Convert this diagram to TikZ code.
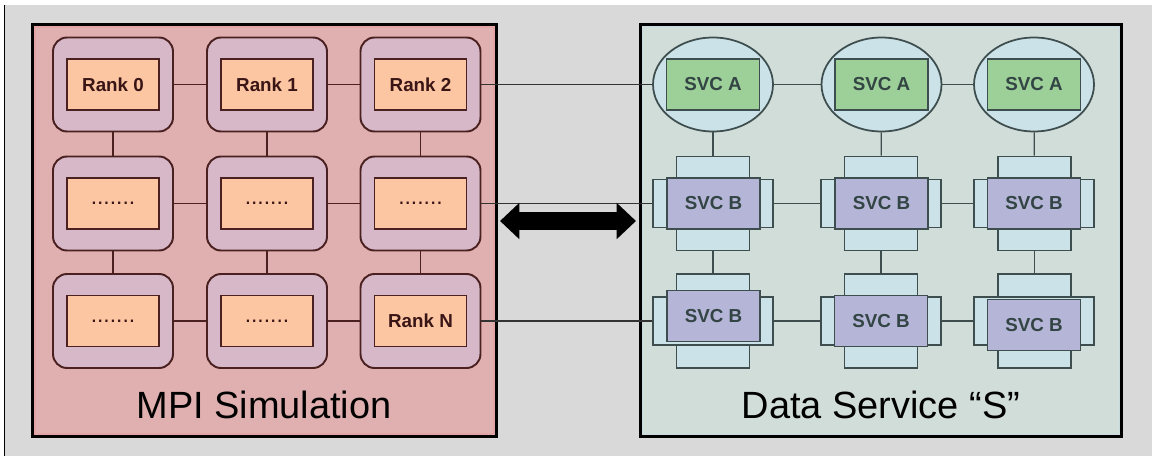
\documentclass[tikz,border=0pt]{standalone}
\usepackage{fontspec}
\setmainfont{Liberation Sans}
\usetikzlibrary{arrows.meta}

\definecolor{bggray}{HTML}{D9D9D9}
\definecolor{simfill}{HTML}{E0B0B0}
\definecolor{simglow}{HTML}{E2A4A4}
\definecolor{rankouter}{HTML}{D6B8C8}
\definecolor{rankinner}{HTML}{FDC6A3}
\definecolor{rankline}{HTML}{4A2020}
\definecolor{ranktext}{HTML}{3A1515}
\definecolor{svcfill}{HTML}{D1DDD9}
\definecolor{svcglow}{HTML}{C8DAE0}
\definecolor{lightblue}{HTML}{CBE2E8}
\definecolor{svcline}{HTML}{3E4E4E}
\definecolor{svcgreen}{HTML}{9DCF98}
\definecolor{svcpurple}{HTML}{B4B5D7}
\definecolor{svctext}{HTML}{334444}

\tikzset{
  mainbox/.style={draw=black, line width=1.7pt, minimum height=8.26cm, inner sep=0pt},
  rankbox/.style={draw=rankline, fill=rankouter, line width=1.1pt, rounded corners=0.28cm,
    minimum width=2.4cm, minimum height=1.88cm},
  rankcell/.style={draw=rankline, fill=rankinner, line width=0.8pt, minimum width=1.84cm,
    minimum height=1.02cm, text=ranktext, font=\bfseries\fontsize{10.7}{12}\selectfont},
  dotcell/.style={rankcell, font=\fontsize{13}{14}\selectfont},
  ranklink/.style={draw=rankline, line width=0.7pt},
  svcshell/.style={ellipse, draw=svcline, fill=lightblue, line width=1pt, inner sep=0pt,
    minimum width=2.4cm, minimum height=1.88cm},
  svcvert/.style={draw=svcline, fill=lightblue, line width=1.1pt, minimum width=1.46cm, minimum height=1.88cm},
  svchorz/.style={draw=svcline, fill=lightblue, line width=1.1pt, minimum width=2.4cm, minimum height=0.96cm},
  svccell/.style={draw=svcline, line width=0.8pt, minimum width=1.86cm, minimum height=1.02cm,
    text=svctext, font=\bfseries\fontsize{10.7}{12}\selectfont},
  svclink/.style={draw=svcline, line width=0.7pt},
  bigtitle/.style={font=\fontsize{21.6}{26}\selectfont, text=black},
}
\usetikzlibrary{shapes.geometric}

\begin{document}
\begin{tikzpicture}[x=0.02cm, y=-0.02cm]
    \useasboundingbox (0,0) rectangle (1152,456);
    % Background
    \fill[bggray] (5,5) rectangle (1152,456);
    \draw[black, line width=0.8pt] (4.5,5) -- (4.5,456);

    % Main boxes
    \node (sim) [mainbox, fill=simfill, minimum width=9.3cm] at (264.5,230.5) {};
    \draw[simglow, line width=3pt] ([shift={(3,3)}]sim.north west) rectangle ([shift={(-3,-3)}]sim.south east);
    \node (svc) [mainbox, fill=svcfill, minimum width=9.64cm] at (881,230.5) {};
    \draw[svcglow, line width=2pt] ([shift={(3,3)}]svc.north west) rectangle ([shift={(-3,-3)}]svc.south east);
    \node [mainbox, minimum width=9.3cm] at (264.5,230.5) {};
    \node [mainbox, minimum width=9.64cm] at (881,230.5) {};

    % Ranks
    \node (s11) [rankbox] at (113,84.5) {};
    \node (s12) [rankbox] at (267,84.5) {};
    \node (s13) [rankbox] at (420.5,84.5) {};
    \node (s21) [rankbox] at (113,203.5) {};
    \node (s22) [rankbox] at (267,203.5) {};
    \node (s23) [rankbox] at (420.5,203.5) {};
    \node (s31) [rankbox] at (113,321) {};
    \node (s32) [rankbox] at (267,321) {};
    \node (s33) [rankbox] at (420.5,321) {};
    \node (r11) [rankcell] at (s11) {Rank 0};
    \node (r12) [rankcell] at (s12) {Rank 1};
    \node (r13) [rankcell] at (s13) {Rank 2};
    \node (r21) [dotcell] at (s21) {.......};
    \node (r22) [dotcell] at (s22) {.......};
    \node (r23) [dotcell] at (s23) {.......};
    \node (r31) [dotcell] at (s31) {.......};
    \node (r32) [dotcell] at (s32) {.......};
    \node (r33) [rankcell] at (s33) {Rank N};

    % Services
    \node (e1) [svcshell] at (713,84.5) {};
    \node (e2) [svcshell] at (881.5,84.5) {};
    \node (e3) [svcshell] at (1034,84.5) {};
    \node (a1) [svccell, fill=svcgreen] at (e1) {SVC A};
    \node (a2) [svccell, fill=svcgreen] at (e2) {SVC A};
    \node (a3) [svccell, fill=svcgreen] at (e3) {SVC A};

    \node (v21) [svcvert] at (713,203.5) {};
    \node (v22) [svcvert] at (881,203.5) {};
    \node (v23) [svcvert] at (1034.5,203.5) {};
    \node (h21) [svchorz] at (713,203.5) {};
    \node (h22) [svchorz] at (881,203.5) {};
    \node (h23) [svchorz] at (1034,203.5) {};
    \node (b21) [svccell, fill=svcpurple] at (713.5,203.5) {SVC B};
    \node (b22) [svccell, fill=svcpurple] at (881.5,203.5) {SVC B};
    \node (b23) [svccell, fill=svcpurple] at (1034,203.5) {SVC B};

    \node (v31) [svcvert] at (713,321) {};
    \node (v32) [svcvert] at (881,321) {};
    \node (v33) [svcvert] at (1034.5,321) {};
    \node (h31) [svchorz] at (713,321) {};
    \node (h32) [svchorz] at (881,321) {};
    \node (h33) [svchorz] at (1034,321) {};
    \node (b31) [svccell, fill=svcpurple] at (713.5,316) {SVC B};
    \node (b32) [svccell, fill=svcpurple] at (881,321) {SVC B};
    \node (b33) [svccell, fill=svcpurple] at (1034,325) {SVC B};

    % Titles
    \node (simtitle) [bigtitle] at (264,405) {MPI Simulation};
    \node (svctitle) [bigtitle] at (881,405) {Data Service “S”};

    % Edges
    \draw[ranklink] (s11) -- (s12);
    \draw[ranklink] (s12) -- (s13);
    \draw[ranklink] (s21) -- (s22);
    \draw[ranklink] (s22) -- (s23);
    \draw[ranklink] (s31) -- (s32);
    \draw[ranklink] (s32) -- (s33);
    \draw[ranklink] (s11) -- (s21);
    \draw[ranklink] (s21) -- (s31);
    \draw[ranklink] (s12) -- (s22);
    \draw[ranklink] (s22) -- (s32);
    \draw[ranklink] (s13) -- (s23);
    \draw[ranklink] (s23) -- (s33);

    \draw[svclink] (e1) -- (e2);
    \draw[svclink] (e2) -- (e3);
    \draw[svclink] (h21) -- (h22);
    \draw[svclink] (h22) -- (h23);
    \draw[svclink] (h31) -- (h32);
    \draw[svclink] (h32) -- (h33);
    \draw[svclink] (e1) -- (v21);
    \draw[svclink] (v21) -- (v31);
    \draw[svclink] (e2) -- (v22);
    \draw[svclink] (v22) -- (v32);
    \draw[svclink] (e3) -- (v23);
    \draw[svclink] (v23) -- (v33);

    \draw[svclink, draw=black!80] (s13) -- (e1);
    \draw[svclink, draw=black!80] (s23) -- (h21);
    \draw[svclink, draw=black!80] (s33) -- (h31);

    % Exchange arrow
    \coordinate (arrL) at (500,221);
    \coordinate (arrR) at (636,221);
    \draw[line width=10pt, {Triangle[length=11pt,width=20pt]}-{Triangle[length=11pt,width=20pt]}] (arrL) -- (arrR);
\end{tikzpicture}
\end{document}
